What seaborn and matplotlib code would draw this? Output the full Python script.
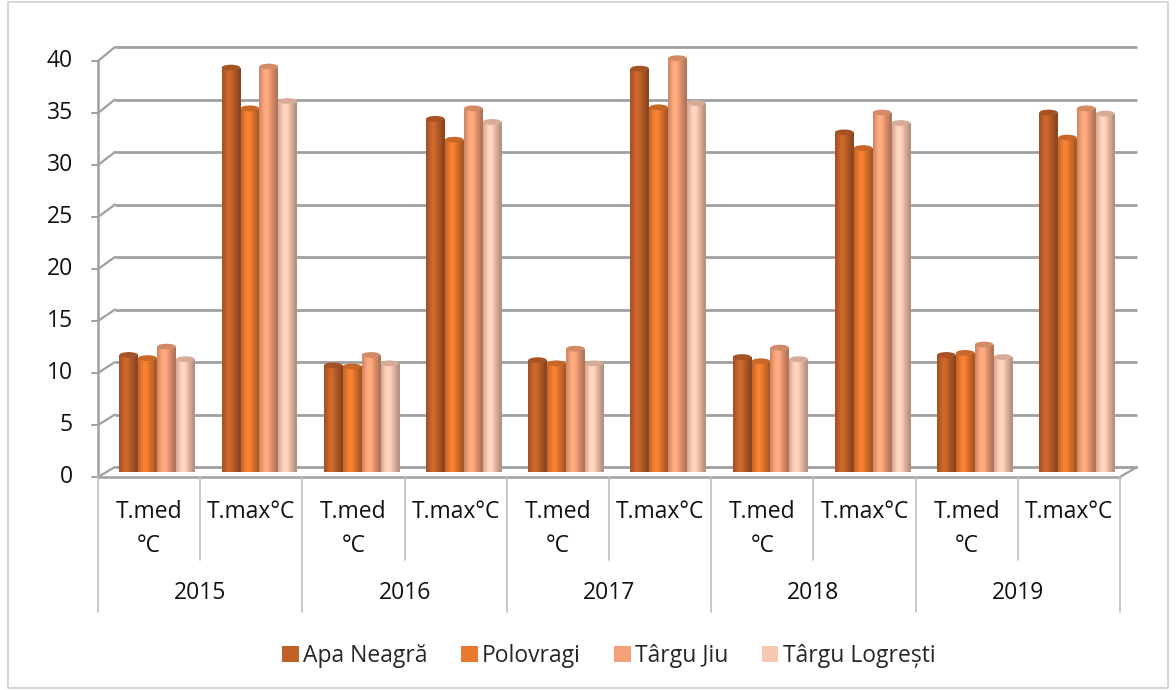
import matplotlib
matplotlib.use("Agg")
import matplotlib.pyplot as plt
import matplotlib.transforms as mtransforms
from matplotlib.patches import Patch, Rectangle, Ellipse
from matplotlib.lines import Line2D
import matplotlib.colors as mcolors
import seaborn as sns
import pandas as pd
import numpy as np

# ---------------- data ----------------
years = ["2015", "2016", "2017", "2018", "2019"]
measures = ["T.med\n°C", "T.max°C"]
stations = ["Apa Neagră", "Polovragi", "Târgu Jiu", "Târgu Logrești"]
apa_neagra = [11.2, 38.7, 10.2, 33.8, 10.7, 38.6, 11.0, 32.5, 11.2, 34.4]
polovragi = [10.9, 34.8, 10.1, 31.8, 10.4, 34.9, 10.6, 31.0, 11.4, 32.0]
targu_jiu = [12.0, 38.8, 11.2, 34.8, 11.8, 39.6, 11.9, 34.4, 12.2, 34.8]
targu_logresti = [10.8, 35.5, 10.4, 33.5, 10.4, 35.3, 10.8, 33.4, 11.0, 34.3]
y_ticks = [0, 5, 10, 15, 20, 25, 30, 35, 40]
colors = ["#C0612A", "#E8792F", "#F5A078", "#F9C8B2"]

cats = [f"{y}|{m}" for y in years for m in measures]
rows = []
for name, vals in zip(stations, [apa_neagra, polovragi, targu_jiu, targu_logresti]):
    for c, v in zip(cats, vals):
        rows.append({"cat": c, "station": name, "value": v})
df = pd.DataFrame(rows)

# ---------------- figure ----------------
sns.set_theme(style="white")
plt.rcParams["font.family"] = ["Open Sans", "DejaVu Sans"]
W, H = 1176, 690
FS = 16.5
fig = plt.figure(figsize=(W / 100, H / 100), dpi=100)

def box(x0, y_top, x1, y_bot):
    return [x0 / W, 1 - y_bot / H, (x1 - x0) / W, (y_bot - y_top) / H]

grid_col = "#A0A0A0"

# background layer (back wall + floor perspective lines)
bg = fig.add_axes([0, 0, 1, 1])
bg.set_xlim(0, W)
bg.set_ylim(H, 0)
bg.axis("off")
bg.add_patch(Rectangle((8, 2), 1160, 686, fill=False, ec="#D0D0D0", lw=1.2))

fx0, fx1 = 98, 1120          # front plane
f0, f40 = 477, 61
bx0, bx1 = 115, 1137         # back plane
b0, b40 = 467, 47
for t in y_ticks:
    fy = f0 + (f40 - f0) * t / 40
    by = b0 + (b40 - b0) * t / 40
    bg.plot([bx0, bx1], [by, by], color=grid_col, lw=2.0, solid_capstyle="butt")
    bg.plot([fx0, bx0], [fy, by], color=grid_col, lw=1.6)
bg.plot([fx0, fx1], [f0, f0], color=grid_col, lw=1.8)
bg.plot([fx1, bx1], [f0, b0], color=grid_col, lw=1.6)
bg.plot([fx0, fx0], [f0, f40], color=grid_col, lw=1.8)
for t in y_ticks:
    fy = f0 + (f40 - f0) * t / 40
    bg.plot([fx0 - 6, fx0], [fy, fy], color=grid_col, lw=1.4)
    bg.text(fx0 - 25, fy, str(t), ha="right", va="center", fontsize=FS, color="#111111")

# bars (mid-depth plane)
ax = fig.add_axes(box(106, 54, 1128, 472))
ax.patch.set_alpha(0)
sns.barplot(data=df, x="cat", y="value", hue="station", order=cats,
            hue_order=stations, palette=colors, width=0.74, gap=0.02,
            saturation=1, ax=ax, legend=False)
ax.set_xlim(-0.5, len(cats) - 0.5)
ax.set_ylim(0, 40)
ax.axis("off")

# cylinder shading on each bar
prof_x = np.linspace(0, 1, 64)
shade = 0.78 + 0.30 * np.exp(-((prof_x - 0.38) / 0.30) ** 2)
shade[prof_x > 0.85] *= 0.93
for p in list(ax.patches):
    x0, y0 = p.get_x(), p.get_y()
    w, h = p.get_width(), p.get_height()
    if h <= 0:
        continue
    base = np.array(mcolors.to_rgb(p.get_facecolor()))
    grad = np.clip(base[None, :] * shade[:, None], 0, 1)[None, :, :]
    im = ax.imshow(grad, extent=(x0, x0 + w, y0, y0 + h), aspect="auto",
                   interpolation="bilinear", zorder=p.get_zorder() + 0.1, origin="lower")
    im.set_clip_path(p)
    p.set_edgecolor("none")
    top_col = np.clip(base * 0.86, 0, 1)
    ax.add_patch(Ellipse((x0 + w / 2, y0 + h), w, 0.55, facecolor=top_col,
                         edgecolor="none", zorder=p.get_zorder() + 0.2))
ax.set_xlim(-0.5, len(cats) - 0.5)
ax.set_ylim(0, 40)

# front axes for category labels
axf = fig.add_axes(box(fx0, f40, fx1, f0))
axf.patch.set_alpha(0)
axf.set_xlim(-0.5, len(cats) - 0.5)
axf.set_ylim(0, 40)
axf.axis("off")
tr = mtransforms.blended_transform_factory(axf.transData, bg.transData)
sep_col = "#BFBFBF"
for k in range(len(cats) + 1):
    xk = k - 0.5
    ybot = 612 if k % 2 == 0 else 560
    axf.add_line(Line2D([xk, xk], [f0, ybot], transform=tr, color=sep_col, lw=1.2, clip_on=False))
for i, c in enumerate(cats):
    lines = c.split("|")[1].split("\n")
    for li, txt in enumerate(lines):
        axf.text(i, 512 + 34 * li, txt, transform=tr, ha="center", va="center",
                 fontsize=FS, color="#111111", clip_on=False)
for j, y in enumerate(years):
    axf.text(2 * j + 0.5, 593, y, transform=tr, ha="center", va="center",
             fontsize=FS, color="#111111", clip_on=False)

# legend
handles = [Patch(facecolor=c, edgecolor="none", label=s) for s, c in zip(stations, colors)]
fig.legend(handles=handles, loc="center", bbox_to_anchor=(609 / W, 1 - 656 / H),
           ncol=4, frameon=False, fontsize=FS, handlelength=0.72, handleheight=0.72,
           handletextpad=0.2, columnspacing=1.45)

fig.savefig("out.png", dpi=100)
